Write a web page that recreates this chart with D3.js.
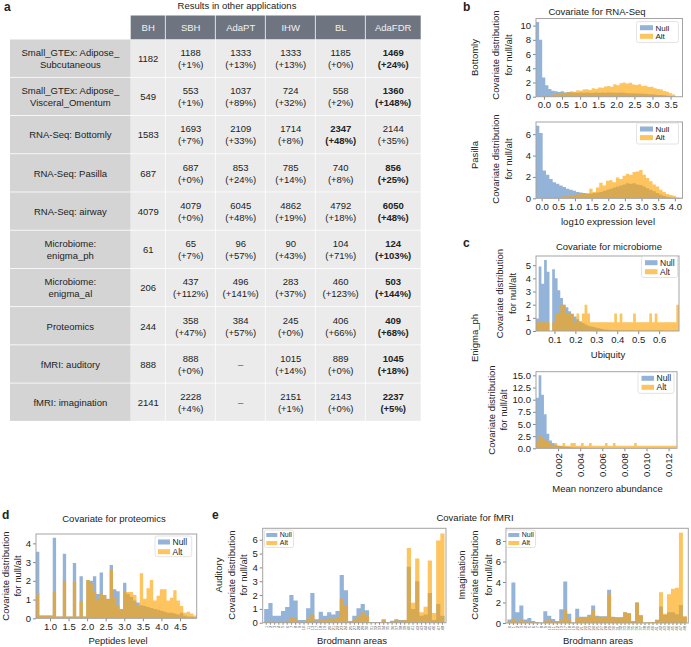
<!DOCTYPE html>
<html><head><meta charset="utf-8">
<script src="https://cdn.jsdelivr.net/npm/d3@7"></script>
<style>body{margin:0;background:#fff}svg{display:block;font-family:"Liberation Sans",Arial,Helvetica,sans-serif}</style>
</head><body><script>
// ---------------- DATA ----------------
const methods = ["BH","SBH","AdaPT","IHW","BL","AdaFDR"];
const rowLabels = [["Small_GTEx: Adipose_","Subcutaneous"],["Small_GTEx: Adipose_","Visceral_Omentum"],["RNA-Seq: Bottomly"],["RNA-Seq: Pasilla"],["RNA-Seq: airway"],["Microbiome:","enigma_ph"],["Microbiome:","enigma_al"],["Proteomics"],["fMRI: auditory"],["fMRI: imagination"]];
const counts = [[1182,1188,1333,1333,1185,1469],[549,553,1037,724,558,1360],[1583,1693,2109,1714,2347,2144],[687,687,853,785,740,856],[4079,4079,6045,4862,4792,6050],[61,65,96,90,104,124],[206,437,496,283,460,503],[244,358,384,245,406,409],[888,888,null,1015,889,1045],[2141,2228,null,2151,2143,2237]];
const gains = [[null,1,13,13,0,24],[null,1,89,32,2,148],[null,7,33,8,48,35],[null,0,24,14,8,25],[null,0,48,19,18,48],[null,7,57,43,71,103],[null,112,141,37,123,144],[null,47,57,0,66,68],[null,0,null,14,0,18],[null,4,null,1,0,5]];
const best = [5,5,4,5,5,5,5,5,5,5];

// RNA-Seq Bottomly: bin range and densities
const bottomlyRange = [-0.22, 3.63];
const bottomlyNull = [10.5,8.0,2.7,1.6,1.1,0.85,0.75,0.65,0.75,0.6,0.65,0.6,0.6,0.55,0.6,0.55,0.6,0.55,0.55,0.6,0.55,0.6,0.55,0.6,0.6,0.55,0.55,0.6,0.55,0.5,0.5,0.5,0.45,0.45,0.4,0.4,0.35,0.35,0.3,0.25,0.25,0.2,0.15,0.1,0.05];
const bottomlyAlt = [0,0.02,0.1,0.15,0.25,0.3,0.35,0.5,0.45,0.6,0.55,0.75,0.7,0.9,0.85,1.0,1.05,0.95,1.2,1.1,1.3,1.25,1.45,1.5,1.4,1.75,1.6,1.9,2.0,1.85,1.95,1.7,1.65,1.75,1.5,1.55,1.35,1.4,1.2,1.1,1.0,0.8,0.7,0.5,0.3];
// RNA-Seq Pasilla
const pasillaRange = [-0.17, 4.23];
const pasillaNull = [6.8,6.1,2.6,2.2,1.8,1.5,1.35,1.2,1.05,0.9,0.8,0.7,0.6,0.55,0.5,0.45,0.45,0.5,0.55,0.6,0.7,0.8,0.9,1.0,1.1,1.2,1.3,1.4,1.35,1.4,1.3,1.25,1.1,0.95,0.8,0.65,0.5,0.35,0.25,0.15,0.1,0.05,0.03,0.02];
const pasillaAlt = [0,0,0.02,0.05,0.05,0.1,0.1,0.15,0.2,0.2,0.3,0.25,0.35,0.4,0.5,0.45,0.9,0.6,1.0,1.45,1.2,1.65,1.7,1.5,1.95,1.8,2.1,2.3,2.2,2.45,2.5,2.65,2.2,1.9,1.6,1.3,1.1,0.8,0.6,0.4,0.3,0.25,0.1,0.05];
// Microbiome ubiquity
const ubiqRange = [0.012, 0.695];
const ubiqNull = [0.95,4.9,3.6,5.4,4.5,0,4.7,4.0,3.1,2.5,2.0,1.8,1.5,1.3,1.1,0.9,0.75,0.6,0.5,0.4,0.35,0.3,0.25,0.2,0.15,0.12,0.1,0.08,0.06,0.05,0.05,0.04,0.04,0.03,0.03,0.03,0.02,0.02,0.02,0.02,0.02,0.01,0.01,0.01,0.01,0.01,0.01,0,0,0,0,0,0];
const ubiqAlt = [0.67,0.67,0.67,0.67,0.67,0,0.67,1.33,1.33,2.0,2.0,1.33,1.33,1.33,0.67,1.33,0.67,1.33,2.0,1.33,0.67,0.67,0.67,0.67,0.67,0.67,0.67,0.67,0.67,1.33,0.67,1.33,0.67,0.67,0.67,0.67,1.33,0.67,0.67,0.67,0.67,0.67,1.33,0.67,1.33,0.67,0.67,0.67,0.67,0.67,0.67,0.67,2.0];
// Microbiome mean nonzero abundance
const abundRange = [0, 0.01272];
const abundNull = [10.4,15.0,11.0,7.0,3.0,1.6,1.1,0.75,0.55,0.45,0.35,0.3,0.25,0.2,0.18,0.15,0.12,0.1,0.1,0.08,0.07,0.06,0.05,0.05,0.04,0.04,0.03,0.03,0.03,0.02,0.02,0.02,0.02,0.02,0.01,0.01,0.01,0.01,0.01,0.01,0.01,0.01,0.01,0.01,0.01,0.01,0.01,0.01,0.01,0.01,0.01,0.01,0.01];
const abundAlt = [1.35,2.7,2.2,1.7,1.3,1.0,0.55,1.1,0.55,0.55,1.1,0.55,0.55,1.1,1.1,0.55,0.55,1.1,0.55,0.55,1.1,0.55,0.55,0.55,0.55,0.55,1.1,0.55,0.55,1.1,0.55,0.55,0.55,0.55,0.55,0.55,0.55,1.1,0.55,0.55,0.55,0.55,0.55,0.55,0.55,0.55,0.55,0.55,0.55,0.55,0.55,0.55,0.55];
// Proteomics
const peptRange = [0.623, 4.95];
const peptNull = [3.55,0.15,0.15,0.15,0.15,4.3,0.1,0.1,3.45,0.1,0.1,2.95,0.1,2.25,0.1,2.05,2.0,2.25,1.3,2.45,1.25,1.05,2.85,1.55,1.45,0.5,1.9,1.3,1.15,0.95,0.85,0.7,0.65,0.6,0.55,0.5,0.45,0.4,0.35,0.3,0.3,0.25,0.2,0.3,0.15,0.1,0.1,0.05];
const peptAlt = [1.35,0.15,0.15,0.15,0.15,1.4,0.1,0.1,2.0,0.1,0.1,1.95,0.1,0.9,0.1,2.05,1.9,1.4,1.0,1.35,1.25,1.0,2.6,1.1,0.7,0.5,1.4,1.4,1.4,1.25,0.65,2.4,1.05,1.6,2.05,0.95,1.2,1.55,1.55,0.95,1.1,1.5,0.95,0.65,0.3,0.35,0.25,0.15];
// fMRI
const audAreas = ["1","2","3","4","5","6","7","8","9","10","11","13","17","18","19","20","21","22","23","24","25","27","28","29","30","31","32","33","34","35","36","37","38","39","40","41","42","43","44","45","46","47","48"];
const audNull = [1.0,1.43,0.5,0.5,0.85,1.14,2.0,1.6,0.2,0.2,1.05,2.15,0.25,0.8,0.5,0.75,0.6,0.85,3.45,2.35,0.12,0.5,1.05,1.35,0.9,0.05,0.05,0.05,0.25,0.05,0.15,0.25,0.2,0.2,4.05,1.0,3.0,0.5,0.6,2.15,0.2,1.35,0.5];
const audAlt = [0.12,0.15,0.07,0.07,0.1,0.15,0.35,0.3,0.05,0.05,0.3,0.6,0.15,0.25,0.25,0.3,0.3,0.4,1.75,1.2,0.1,0.2,0.45,0.75,0.5,0.05,0.05,0.05,0.2,0.05,0.1,0.2,0.15,0.2,5.4,1.45,4.65,0.75,1.15,4.5,0.7,5.95,6.45];
const imgAreas = ["0","1","2","3","4","5","6","7","8","9","10","11","12","13","17","18","19","20","21","22","23","24","25","27","28","29","30","31","32","33","34","35","36","37","38","39","40","41","42","43","44","45","46","47","48"];
const imgNull = [0.35,3.95,1.05,1.7,0.35,0.5,0.2,0.1,0.05,1.15,0.7,0.4,0.2,1.35,4.05,0.9,0.05,1.4,0.6,0.6,0.8,1.7,0.7,0.65,0.65,3.25,0.6,0.55,0.55,1.05,0.95,0.2,2.0,0.75,0.05,0.05,0.1,0.3,1.6,0.8,1.05,1.05,0.85,1.75,0.6];
const imgAlt = [0.1,0.45,0.2,0.3,0.1,0.1,0.05,0.05,0.02,0.25,0.3,0.15,0.1,0.4,1.25,0.4,0.05,0.5,0.5,0.55,0.65,1.25,0.6,0.6,0.6,2.8,0.55,0.55,0.55,1.05,0.95,0.2,2.0,0.75,0.05,0.1,0.1,0.35,3.0,0.9,2.8,3.35,3.45,8.8,0.65];

// ---------------- STYLE ----------------
const NULLC = "#3a75b8", NULLO = 0.55, ALTC = "#fca50a", ALTO = 0.65;
const FRAME = "#a3a3a3", TXT = "#222";

const svg = d3.select("body").append("svg").attr("width",691).attr("height",647);

function text(x,y,s,o={}){
  const t = svg.append("text").attr("x",x).attr("y",y).text(s)
    .attr("font-size",o.fs||9.5).attr("fill",o.fill||TXT)
    .attr("text-anchor",o.anchor||"middle");
  if(o.bold) t.attr("font-weight","bold");
  return t;
}
function vtext(cx,cy,s,fs){
  svg.append("text").attr("transform",`translate(${cx},${cy}) rotate(-90)`)
    .attr("dy","0.35em").attr("text-anchor","middle").attr("font-size",fs||9.5).attr("fill",TXT).text(s);
}

// ---------------- TABLE (a) ----------------
const colX = [130.7,165.7,215.7,265.7,315.7,365.7,420.7];
const hTop=15.5, hBot=39.5, tBot=421.7, labL=10;
const rh = (tBot-hBot)/rowLabels.length;
const tg = svg.append("g");
methods.forEach((m,j)=>{
  tg.append("rect").attr("x",colX[j]).attr("y",hTop).attr("width",colX[j+1]-colX[j]-(j<5?0.8:0)).attr("height",hBot-hTop).attr("fill","#6e7581");
  text((colX[j]+colX[j+1])/2, (hTop+hBot)/2+3.4, m, {fill:"#f2f2f2"});
});
rowLabels.forEach((lab,i)=>{
  const y0 = hBot+i*rh, cy = y0+rh/2;
  tg.append("rect").attr("x",labL).attr("y",y0).attr("width",colX[0]-labL).attr("height",rh-0.8).attr("fill","#d4d4d4");
  if(lab.length===1) text((labL+colX[0])/2, cy+3.4, lab[0]);
  else { text((labL+colX[0])/2, cy-2.6, lab[0]); text((labL+colX[0])/2, cy+9.4, lab[1]); }
  methods.forEach((m,j)=>{
    tg.append("rect").attr("x",colX[j]).attr("y",y0).attr("width",colX[j+1]-colX[j]-(j<5?0.8:0)).attr("height",rh-0.8).attr("fill","#ebebeb");
    const cx=(colX[j]+colX[j+1])/2, b = best[i]===j;
    const c = counts[i][j];
    if(c===null) text(cx, cy+3.4, "–", {fill:"#555"});
    else if(j===0) text(cx, cy+3.4, c);
    else { text(cx, cy-2.6, c, {bold:b}); text(cx, cy+9.4, `(+${gains[i][j]}%)`, {bold:b}); }
  });
});
text(237, 9, "Results in other applications");
text(4, 11, "a", {anchor:"start", bold:true, fs:12});

// ---------------- HISTOGRAM HELPERS ----------------
function axesBox(box, xs, ys, xTicks, xFmt, yTicks, yFmt, rotX){
  const g = svg.append("g");
  const ax = d3.axisBottom(xs).tickValues(xTicks).tickFormat(xFmt).tickSize(3).tickPadding(2);
  const gx = g.append("g").attr("transform",`translate(0,${box.b})`).call(ax);
  const ay = d3.axisLeft(ys).tickValues(yTicks).tickFormat(yFmt).tickSize(3).tickPadding(2);
  const gy = g.append("g").attr("transform",`translate(${box.l},0)`).call(ay);
  [gx,gy].forEach(a=>{
    a.select(".domain").remove();
    a.selectAll("line").attr("stroke","#888");
    a.selectAll("text").attr("font-size",9.5).attr("fill",TXT);
    a.attr("font-family",null);
  });
  if(rotX){
    gx.selectAll("text").attr("transform","rotate(-90)").attr("text-anchor","end")
      .attr("x",-5).attr("y",0).attr("dy","0.35em");
  }
  return gx;
}
function frame(box){
  svg.append("rect").attr("x",box.l).attr("y",box.t).attr("width",box.r-box.l).attr("height",box.b-box.t)
    .attr("fill","none").attr("stroke",FRAME).attr("stroke-width",1);
}
function stepArea(ys, edges, vals, color, op){
  const pts = vals.map((v,i)=>[edges[i], v]); pts.push([edges[vals.length], vals[vals.length-1]]);
  svg.append("path").attr("d", d3.area().x(d=>d[0]).y0(ys(0)).y1(d=>ys(d[1])).curve(d3.curveStepAfter)(pts))
    .attr("fill",color).attr("fill-opacity",op);
}
function binEdges(xs, range, n){
  const w = (range[1]-range[0])/n;
  return d3.range(n+1).map(i=>xs(range[0]+i*w));
}
function legend(x, yN, sp, fs, pw, ph, bx){
  if(bx) svg.append("rect").attr("x",bx[0]).attr("y",bx[1]).attr("width",bx[2]).attr("height",bx[3])
    .attr("rx",2).attr("fill","#fff").attr("fill-opacity",0.8).attr("stroke","#dcdcdc").attr("stroke-width",0.8);
  [["Null",NULLC,NULLO],["Alt",ALTC,ALTO]].forEach((d,i)=>{
    const y = yN+i*sp;
    svg.append("rect").attr("x",x).attr("y",y-ph/2).attr("width",pw).attr("height",ph).attr("fill",d[1]).attr("fill-opacity",d[2]);
    svg.append("text").attr("x",x+pw+2.5).attr("y",y).attr("dy","0.35em").attr("font-size",fs).attr("fill",TXT).text(d[0]);
  });
}
function histPanel(box, view, yMax, range, nullV, altV, xTicks, xFmt, yTicks, yFmt, rotX){
  const xs = d3.scaleLinear().domain(view).range([box.l, box.r]);
  const ys = d3.scaleLinear().domain([0,yMax]).range([box.b, box.t]);
  stepArea(ys, binEdges(xs,range,nullV.length), nullV, NULLC, NULLO);
  stepArea(ys, binEdges(xs,range,altV.length), altV, ALTC, ALTO);
  axesBox(box, xs, ys, xTicks, xFmt, yTicks, yFmt, rotX);
  frame(box);
}
function catPanel(box, cats, yMax, nullV, altV, yTicks){
  const xb = d3.scaleBand().domain(cats).range([box.l, box.r]).paddingOuter(0.35).paddingInner(0);
  const ys = d3.scaleLinear().domain([0,yMax]).range([box.b, box.t]);
  const edges = cats.map(c=>xb(c)); edges.push(xb(cats[cats.length-1])+xb.bandwidth());
  stepArea(ys, edges, nullV, NULLC, NULLO);
  stepArea(ys, edges, altV, ALTC, ALTO);
  const g = svg.append("g");
  const gx = g.append("g").attr("transform",`translate(0,${box.b})`).call(d3.axisBottom(xb).tickSize(2).tickPadding(1));
  gx.select(".domain").remove(); gx.selectAll("line").attr("stroke","#888");
  gx.attr("font-family",null);
  gx.selectAll("text").attr("font-size",4).attr("fill","#555").attr("transform","rotate(-90)")
    .attr("text-anchor","end").attr("x",-3).attr("y",0).attr("dy","0.35em");
  const gy = g.append("g").attr("transform",`translate(${box.l},0)`).call(d3.axisLeft(ys).tickValues(yTicks).tickFormat(d3.format("d")).tickSize(3).tickPadding(2));
  gy.select(".domain").remove(); gy.selectAll("line").attr("stroke","#888");
  gy.attr("font-family",null); gy.selectAll("text").attr("font-size",9.5).attr("fill",TXT);
  frame(box);
}
const f1 = d3.format(".1f"), fd = d3.format("d"), f3 = d3.format(".3f");

// ---------------- (b) RNA-Seq ----------------
text(463, 11, "b", {anchor:"start", bold:true, fs:12});
text(597, 15, "Covariate for RNA-Seq");
histPanel({l:536,r:682.5,t:18.5,b:96.7}, [-0.22,3.83], 11.0, bottomlyRange, bottomlyNull, bottomlyAlt,
  [0,0.5,1,1.5,2,2.5,3,3.5], f1, [0,2,4,6,8,10], fd);
legend(640, 27.7, 8.6, 8, 13, 5, [636.5,21.5,42,21]);
histPanel({l:536,r:682.5,t:122,b:198.3}, [-0.17,4.23], 7.14, pasillaRange, pasillaNull, pasillaAlt,
  [0,0.5,1,1.5,2,2.5,3,3.5,4], f1, [0,2,4,6], fd);
legend(640, 129, 8.6, 8, 13, 5, [636.5,123,42,21]);
vtext(475, 57.5, "Bottomly"); vtext(496, 55, "Covariate distribution"); vtext(508.5, 55, "for null/alt");
vtext(475, 155, "Pasilla"); vtext(496, 159, "Covariate distribution"); vtext(508.5, 159, "for null/alt");
text(608, 225, "log10 expression level");

// ---------------- (c) microbiome ----------------
text(463, 246.5, "c", {anchor:"start", bold:true, fs:12});
text(609, 250, "Covariate for microbiome");
histPanel({l:536,r:679,t:256,b:331}, [0.012,0.695], 5.7, ubiqRange, ubiqNull, ubiqAlt,
  [0.1,0.2,0.3,0.4,0.5,0.6], f1, [0,1,2,3,4,5], fd);
legend(645, 262.7, 9, 8.5, 12.5, 5, [641.5,256.5,36,21]);
text(608, 357.5, "Ubiquity");
vtext(475, 338, "Enigma_ph"); vtext(500, 293.5, "Covariate distribution"); vtext(512.5, 293.5, "for null/alt");
histPanel({l:536,r:677,t:371.7,b:448.3}, [0,0.01276], 15.75, abundRange, abundNull, abundAlt,
  [0.002,0.004,0.006,0.008,0.010,0.012], f3, [0,2.5,5,7.5,10,12.5,15], f1, true);
legend(641.5, 378.3, 9, 8.5, 12.5, 5, [638,372.3,36,21]);
vtext(492, 410, "Covariate distribution"); vtext(503.5, 410, "for null/alt");
text(607.5, 491.5, "Mean nonzero abundance");

// ---------------- (d) proteomics ----------------
text(2, 519, "d", {anchor:"start", bold:true, fs:12});
text(114, 522, "Covariate for proteomics");
histPanel({l:36,r:196.7,t:534,b:618.3}, [0.623,4.95], 4.5, peptRange, peptNull, peptAlt,
  [1,1.5,2,2.5,3,3.5,4,4.5], f1, [0,1,2,3,4], fd);
legend(158, 542, 9.7, 8.5, 12, 5, [155,536,36.7,20.7]);
vtext(6, 576, "Covariate distribution"); vtext(18, 576, "for null/alt");
text(118, 643.5, "Peptides level");

// ---------------- (e) fMRI ----------------
text(212, 519, "e", {anchor:"start", bold:true, fs:12});
text(475, 521, "Covariate for fMRI");
catPanel({l:262.7,r:446,t:528.3,b:622.7}, audAreas, 6.83, audNull, audAlt, [0,1,2,3,4,5,6]);
legend(266.3, 535, 8, 7, 11, 4, [264.5,530,29,17.5]);
vtext(218.3, 575, "Auditory"); vtext(231.7, 575, "Covariate distribution"); vtext(243.5, 575, "for null/alt");
text(352, 643.5, "Brodmann areas");
catPanel({l:506,r:688.3,t:528.3,b:623}, imgAreas, 9.24, imgNull, imgAlt, [0,2,4,6,8]);
legend(508.3, 535, 8, 7, 11, 4, [506.5,530,29,17.5]);
vtext(461.7, 575, "Imagination"); vtext(475, 575, "Covariate distribution"); vtext(488.3, 575, "for null/alt");
text(598, 643.5, "Brodmann areas");
</script></body></html>
